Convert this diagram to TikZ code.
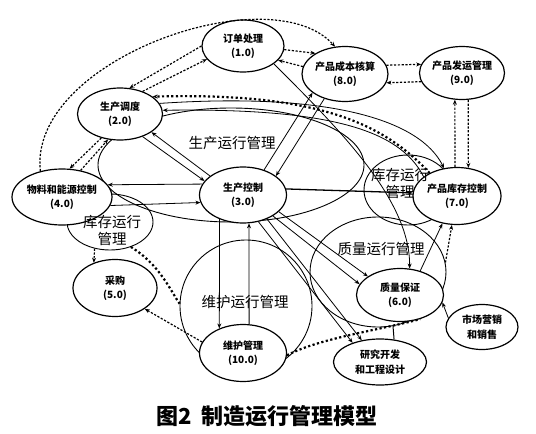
\documentclass[tikz,border=0pt]{standalone}
\usepackage{fontspec}
\setmainfont{Noto Sans CJK SC}
\usetikzlibrary{shapes.geometric, arrows.meta}

\begin{document}
\begin{tikzpicture}[x=1pt, y=-1pt, >={Stealth[length=5pt, width=4pt]},
  unit/.style={ellipse, draw, line width=1.2pt, fill=white, inner sep=0pt,
    font=\fontsize{10}{14.5}\selectfont\bfseries, align=center},
  area/.style={ellipse, draw, line width=0.9pt, inner sep=0pt},
  arealbl/.style={font=\fontsize{14.5}{17}\selectfont, align=center, inner sep=0pt},
  flow/.style={->, line width=0.8pt},
  info/.style={->, line width=1.2pt, dash pattern=on 2.2pt off 1.6pt},
  heavy/.style={line width=2.2pt, dash pattern=on 2.2pt off 2.4pt}]
\useasboundingbox (0,0) rectangle (536,434);

% Ámbitos
\node[area, minimum width=266pt, minimum height=114pt] (prodarea) at (231,165) {};
\node[area, minimum width=86pt, minimum height=56pt] (storeL) at (110,222) {};
\node[area, minimum width=88pt, minimum height=70pt] (storeR) at (408,190) {};
\node[area, minimum width=132pt, minimum height=132pt] (maintarea) at (246,306) {};
\node[area, minimum width=136pt, minimum height=110pt] (qualarea) at (378,272) {};

% Unidades
\node[unit, minimum width=82pt, minimum height=52pt] (order) at (243,46) {订单处理\\(1.0)};
\node[unit, minimum width=85pt, minimum height=52pt] (sched) at (120,114) {生产调度\\(2.0)};
\node[unit, minimum width=87pt, minimum height=56pt] (pctrl) at (243,195) {生产控制\\(3.0)};
\node[unit, minimum width=100pt, minimum height=56pt] (mat) at (62,197) {物料和能源控制\\(4.0)};
\node[unit, minimum width=84pt, minimum height=57pt] (purch) at (115,288) {采购\\(5.0)};
\node[unit, minimum width=87pt, minimum height=53pt] (qa) at (400,295) {质量保证\\(6.0)};
\node[unit, minimum width=88pt, minimum height=57pt] (pstore) at (457,196) {产品库存控制\\(7.0)};
\node[unit, minimum width=86pt, minimum height=55pt] (cost) at (345,74) {产品成本核算\\(8.0)};
\node[unit, minimum width=85pt, minimum height=53pt] (ship) at (462,73) {产品发运管理\\(9.0)};
\node[unit, minimum width=87pt, minimum height=57pt] (maint) at (243,353) {维护管理\\(10.0)};
\node[unit, minimum width=72pt, minimum height=45pt] (mkt) at (482,327) {市场营销\\和销售};
\node[unit, minimum width=93pt, minimum height=46pt] (rnd) at (380,362) {研究开发\\和工程设计};

% Rótulos
\node[arealbl] (prodlbl) at (232,143) {生产运行管理};
\node[arealbl] (storeLlbl) at (112,230) {库存运行\\管理};
\node[arealbl] (storeRlbl) at (400,183) {库存运行\\管理};
\node[arealbl] (maintlbl) at (245,302) {维护运行管理};
\node[arealbl] (quallbl) at (381,249) {质量运行管理};
\node[font=\fontsize{22}{25}\selectfont\bfseries] (caption) at (267,416) {图2\ \ 制造运行管理模型};

% Información
\draw[info] (mat.130) .. controls (28,60) and (270,-25) .. (cost.110);
\path
(order.180) edge[info] (sched.70)
(sched.45) edge[info] (order.200)
(order.-5) edge[info] (cost.145)
(cost.170) edge[info] (order.-22)
(cost.12) edge[info] (ship.168)
(ship.-168) edge[info] (cost.-12)
(pstore.94) edge[info] (ship.-105)
(ship.-77) edge[info] (pstore.68)
(sched.232) edge[info] (mat.75)
(mat.55) edge[info] (sched.245)
(storeL.240) edge[info] (purch.130)
(maint.165) edge[info] (purch.-35)
(qualarea.8) edge[info] (pstore.-100);

\draw[heavy, ->] (pstore.140) .. controls (385,125) and (320,92) .. (sched.28);
\draw[heavy] (storeL.-50) .. controls (160,265) and (170,290) .. (maintarea.178);
\draw[heavy] (maint.-3) .. controls (320,338) and (380,330) .. (qa.-50);
\coordinate (rndtap) at (393,326);
\draw[line width=1pt] (rnd.58) -- (rndtap);

% Flujos
\path
(pctrl.150) edge[flow] (sched.-30)
(sched.-45) edge[flow] (pctrl.160)
(pctrl.165) edge[flow] (mat.15)
(mat.-10) edge[flow] (pctrl.190)
(pctrl.8) edge[flow, line width=1.3pt] (pstore.176)
(pctrl.50) edge[flow] (cost.210)
(cost.230) edge[flow] (pctrl.30)
(pctrl.-134) edge[flow] (maint.134)
(maint.78) edge[flow] (pctrl.-78)
(pctrl.-25) edge[flow] (qa.150)
(pctrl.-35) edge[flow] (qa.165)
(pctrl.-60) edge[flow] (rnd.145)
(pctrl.-45) edge[flow] (rnd.130)
(qa.50) edge[flow] (pstore.-118)
(mkt.165) edge[flow] (qa.-10);

\draw[flow] (sched.15) .. controls (330,92) and (420,120) .. (pstore.115);
\draw[flow] (pstore.150) .. controls (400,130) and (330,108) .. (sched.5);
\draw[flow] (order.-30) .. controls (340,130) and (410,200) .. (qa.70);
\end{tikzpicture}
\end{document}
